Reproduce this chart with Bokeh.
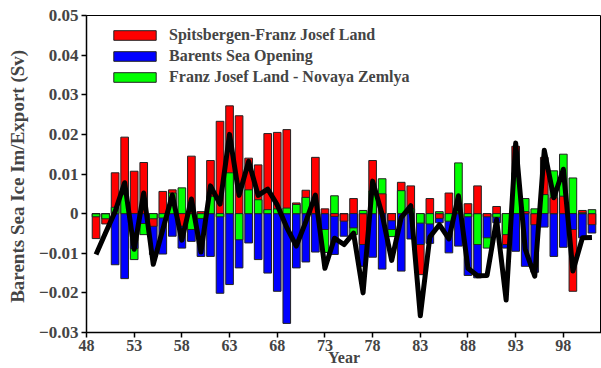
from bokeh.plotting import figure
from bokeh.models import ColumnDataSource, Legend, LegendItem, FixedTicker, Range1d
from bokeh.embed import file_html
from bokeh.resources import INLINE

years = list(range(49, 102))
sfjl = [-0.0063, -0.0026, 0.0103, 0.0193, 0.0107, 0.0129, -0.0032, 0.0056, 0.0060, -0.0032,
        0.0145, 0.0005, 0.0134, 0.0233, 0.0272, 0.0247, 0.0140, 0.0123, 0.0202, 0.0205,
        0.0212, 0.0027, 0.0059, 0.0142, 0.0012, -0.0007, -0.0019, 0.0038, -0.0078, 0.0134,
        0.0050, -0.0018, 0.0079, 0.0070, -0.0154, 0.0038, -0.0012, 0.0052, 0.0002, 0.0025,
        0.0070, -0.0008, 0.0018, -0.0078, 0.0170, 0.0005, -0.0028, 0.0142, 0.0040, 0.0044,
        -0.0196, 0.0008, -0.0028]
bso = [0.0, 0.0, -0.0129, -0.0164, -0.0088, -0.0025, -0.0103, -0.0102, -0.0057, -0.0087,
       -0.0070, -0.0108, -0.0108, -0.0201, -0.0179, -0.0137, -0.0074, -0.0116, -0.0150, -0.0196,
       -0.0277, -0.0137, -0.0122, -0.0097, -0.0040, -0.0103, -0.0057, -0.0036, -0.0133, -0.0110,
       -0.0140, -0.0040, -0.0145, -0.0064, -0.0078, -0.0075, -0.0023, -0.0099, -0.0082, -0.0156,
       -0.0162, -0.0061, -0.0023, -0.0087, -0.0095, -0.0133, -0.0148, -0.0034, -0.0108, -0.0085,
       -0.0040, -0.0061, -0.0049]
fjnz = [-0.0008, -0.0013, 0.0016, 0.0048, -0.0116, -0.0053, -0.0013, -0.0011, 0.0052, 0.0065,
        -0.0040, -0.0012, 0.0044, -0.0008, 0.0103, -0.0066, 0.0060, 0.0035, 0.0010, 0.0012,
        0.0014, 0.0023, 0.0041, 0.0000, -0.0098, 0.0045, 0.0000, -0.0053, 0.0008, 0.0057,
        0.0088, -0.0058, 0.0058, 0.0012, -0.0024, -0.0026, 0.0005, -0.0019, 0.0128, -0.0008,
        -0.0078, -0.0087, -0.0009, -0.0053, 0.0103, 0.0038, 0.0012, 0.0048, 0.0108, 0.0150,
        0.0090, 0.0002, 0.0010]
total = [-0.0103, -0.0048, 0.0005, 0.0078, -0.0090, 0.0052, -0.0128, -0.0040, 0.0047, -0.0067,
         0.0037, -0.0097, 0.0070, 0.0024, 0.0200, 0.0046, 0.0132, 0.0046, 0.0062, 0.0022,
         -0.0035, -0.0082, -0.0020, 0.0047, -0.0138, -0.0062, -0.0078, -0.0049, -0.0200, 0.0082,
         -0.0002, -0.0118, -0.0010, 0.0020, -0.0258, -0.0059, -0.0028, -0.0064, 0.0045, -0.0138,
         -0.0157, -0.0156, -0.0015, -0.0218, 0.0178, -0.0090, -0.0158, 0.0160, 0.0040, 0.0112,
         -0.0145, -0.0061, -0.0060]

series_names = ["Spitsbergen-Franz Josef Land", "Barents Sea Opening", "Franz Josef Land - Novaya Zemlya"]
series_colors = ["#ff0000", "#0000ff", "#00ff00"]
x_ticks = [48, 53, 58, 63, 68, 73, 78, 83, 88, 93, 98]
y_ticks = [-0.03, -0.02, -0.01, 0.0, 0.01, 0.02, 0.03, 0.04, 0.05]
y_tick_labels = ["\u22120.03", "\u22120.02", "\u22120.01", "0", "0.01", "0.02", "0.03", "0.04", "0.05"]
x_title = "Year"
y_title = "Barents  Sea Ice Im/Export (Sv)"

FONT = "Liberation Serif"

p = figure(width=601, height=368, x_range=Range1d(48, 102), y_range=Range1d(-0.03, 0.05),
           output_backend="svg", toolbar_location=None,
           min_border_left=86, min_border_right=0, min_border_top=15, min_border_bottom=36)
p.grid.visible = False
p.outline_line_color = "black"
p.outline_line_width = 1

# overlapping bars: largest magnitude drawn first, smaller ones in front
series = [sfjl, bso, fjnz]
layers = [dict(x=[], top=[], color=[]) for _ in range(3)]
for i, yr in enumerate(years):
    vals = sorted([(abs(s[i]), s[i], series_colors[k]) for k, s in enumerate(series)], key=lambda t: -t[0])
    for k, (_, v, c) in enumerate(vals):
        layers[k]["x"].append(yr)
        layers[k]["top"].append(v)
        layers[k]["color"].append(c)
bar_renderers = []
for lay in layers:
    r = p.vbar(x="x", top="top", bottom=0, width=0.8, fill_color="color", line_color="#222222",
               line_width=1, source=ColumnDataSource(lay))
    bar_renderers.append(r)

p.line(years, total, line_color="black", line_width=5, line_join="round")

items = []
for name, col in zip(series_names, series_colors):
    idx = layers[0]["color"].index(col)
    items.append(LegendItem(label=name, renderers=[bar_renderers[0]], index=idx))
leg = Legend(items=items, location=(22, 246), glyph_width=53, glyph_height=12,
             label_height=14, spacing=3, label_standoff=8, padding=0, margin=0,
             border_line_color=None, background_fill_alpha=0,
             label_text_font=FONT, label_text_font_style="bold", label_text_font_size="16px")
p.add_layout(leg)

p.xaxis.ticker = FixedTicker(ticks=x_ticks)
p.yaxis.ticker = FixedTicker(ticks=y_ticks)
p.yaxis.major_label_overrides = {t: l for t, l in zip(y_ticks, y_tick_labels)}
for ax in (p.xaxis, p.yaxis):
    ax.major_tick_in = 0
    ax.major_tick_out = 5
    ax.minor_tick_in = 0
    ax.minor_tick_out = 0
    ax.axis_line_width = 1.5
    ax.major_tick_line_width = 1.5
    ax.major_label_text_font = FONT
    ax.major_label_text_font_style = "bold"
    ax.axis_label_text_font = FONT
    ax.axis_label_text_font_style = "bold"
p.yaxis.major_label_text_font_size = "17px"
p.yaxis.major_label_standoff = 3
p.yaxis.axis_label = y_title
p.yaxis.axis_label_text_font_size = "19px"
p.yaxis.axis_label_standoff = 8
p.xaxis.major_label_text_font_size = "16px"
p.xaxis.major_label_standoff = 2
p.xaxis.axis_label = x_title
p.xaxis.axis_label_text_font_size = "16px"
p.xaxis.axis_label_standoff = -5

open("out.html", "w").write(file_html(p, INLINE))
